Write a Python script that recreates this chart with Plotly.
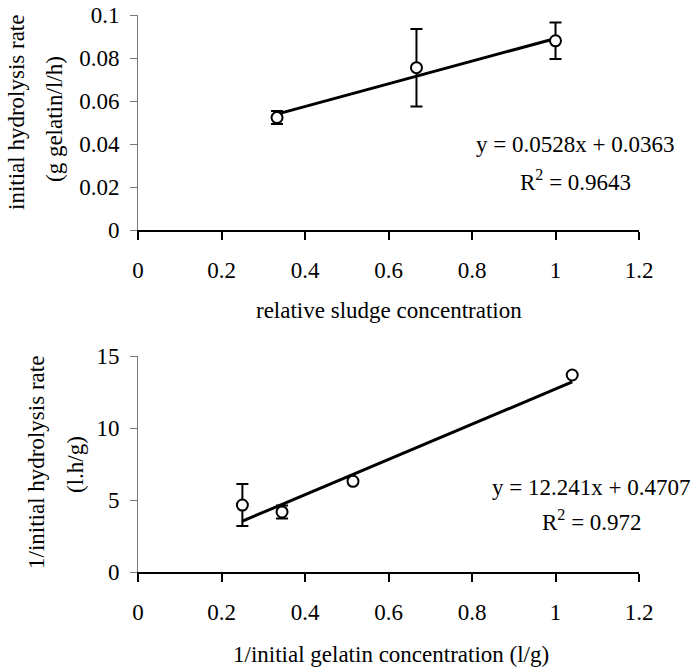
import plotly.graph_objects as go

# ---- data ----
sludge_x = [0.333, 0.667, 1.0]
sludge_rate = [0.0523, 0.0755, 0.088]
sludge_err = [0.003, 0.018, 0.0085]
sludge_fit = (0.0528, 0.0363)   # slope, intercept
sludge_r2 = "0.9643"

gel_x = [0.25, 0.345, 0.515, 1.04]
gel_inv_rate = [4.65, 4.17, 6.3, 13.68]
gel_err = [1.46, 0.45, 0, 0]
gel_fit = (12.241, 0.4707)
gel_r2 = "0.972"

x_ticks = [0, 0.2, 0.4, 0.6, 0.8, 1.0, 1.2]
x_ticklabels = ["0", "0.2", "0.4", "0.6", "0.8", "1", "1.2"]

W, H = 695, 670
FONT = "Liberation Serif, Times New Roman, serif"
FS = 23

fig = go.Figure()

def add_panel(xs, ys, errs, fit, xa, ya):
    x0, x1 = min(xs), max(xs)
    fig.add_trace(go.Scatter(
        x=[x0, x1], y=[fit[0] * x0 + fit[1], fit[0] * x1 + fit[1]],
        mode="lines", line=dict(color="black", width=3),
        xaxis=xa, yaxis=ya, showlegend=False, hoverinfo="skip"))
    fig.add_trace(go.Scatter(
        x=xs, y=ys, mode="markers",
        marker=dict(symbol="circle", size=11, color="white",
                    line=dict(color="black", width=2)),
        error_y=dict(type="data", array=errs, visible=True,
                     color="black", thickness=2, width=6),
        xaxis=xa, yaxis=ya, showlegend=False))

add_panel(sludge_x, sludge_rate, sludge_err, sludge_fit, "x", "y")
add_panel(gel_x, gel_inv_rate, gel_err, gel_fit, "x2", "y2")

def px_x(p):
    return p / W

def px_y(p):
    return 1 - p / H

xdom = [px_x(138), px_x(639)]
xcommon = dict(range=[0, 1.2], tickvals=x_ticks, ticktext=x_ticklabels,
               showline=True, linecolor="black", linewidth=2,
               ticks="outside", ticklen=8, tickwidth=1.5, tickcolor="black",
               showgrid=False, zeroline=False, fixedrange=True,
               automargin=False, ticklabelstandoff=10,
               tickfont=dict(family=FONT, size=FS, color="black"),
               domain=xdom)
ycommon = dict(showline=True, linecolor="#777", linewidth=1,
               ticks="outside", ticklen=7, tickwidth=1, tickcolor="#777",
               showgrid=False, zeroline=False, fixedrange=True,
               automargin=False, ticklabelstandoff=6,
               tickfont=dict(family=FONT, size=FS, color="black"))

fig.update_layout(
    width=W, height=H,
    margin=dict(l=0, r=0, t=0, b=0, autoexpand=False),
    paper_bgcolor="white", plot_bgcolor="white",
    font=dict(family=FONT, size=FS, color="black"),
    xaxis=dict(**xcommon, anchor="y"),
    yaxis=dict(**ycommon, range=[0, 0.1], dtick=0.02, tick0=0,
               domain=[px_y(230), px_y(15)], anchor="x"),
    xaxis2=dict(**xcommon, anchor="y2"),
    yaxis2=dict(**ycommon, range=[0, 15], dtick=5, tick0=0,
                domain=[px_y(572), px_y(356)], anchor="x2"),
)

def ann(text, x, y, angle=0, size=FS):
    fig.add_annotation(text=text, x=px_x(x), y=px_y(y), xref="paper", yref="paper",
                       xanchor="center", yanchor="middle", showarrow=False,
                       textangle=angle, font=dict(family=FONT, size=size, color="black"))

# axis titles
ann("initial hydrolysis rate", 16, 113, -90)
ann("(g gelatin/l/h)", 54, 119, -90)
ann("relative sludge concentration", 389, 310)
ann("1/initial hydrolysis rate", 36, 463, -90)
ann("(l.h/g)", 75, 465, -90)
ann("1/initial gelatin concentration (l/g)", 391, 654)

# regression equations
ann("y = %sx + %s" % (sludge_fit[0], sludge_fit[1]), 575, 145)
ann("R<sup>2</sup> = %s" % sludge_r2, 575, 180)
ann("y = %sx + %s" % (gel_fit[0], gel_fit[1]), 591, 487)
ann("R<sup>2</sup> = %s" % gel_r2, 592, 520)

# remove the browser's default 8px body margin so the figure sits at the window origin
fig.write_html("out.html",
               config={"displayModeBar": False},
               post_script="document.body.style.margin='0';document.body.style.overflow='hidden';")
